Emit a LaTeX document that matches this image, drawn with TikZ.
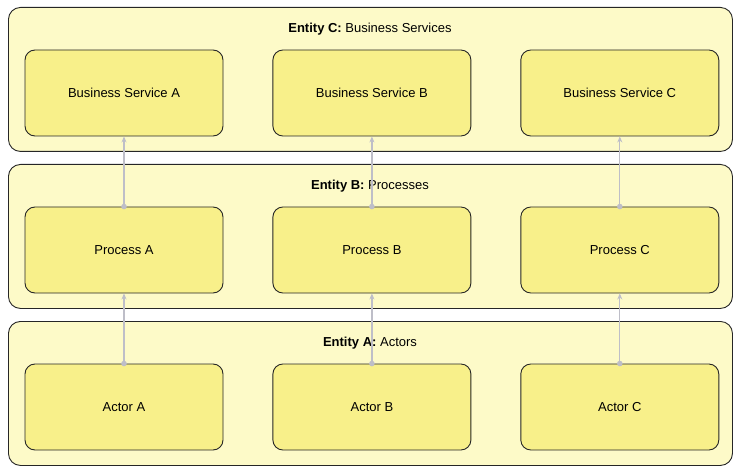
\documentclass[tikz,border=0pt]{standalone}
\usepackage{fontspec}
\setmainfont{Liberation Sans}
\usetikzlibrary{positioning,arrows.meta}
\definecolor{entityfill}{RGB}{253,250,200}
\definecolor{boxfill}{RGB}{248,240,138}
\definecolor{linkgray}{RGB}{190,190,200}
\tikzset{
	%Diagram styles
	entity/.style={
		draw=black!85,
		line width=0.9pt,
		rectangle,
		rounded corners=12pt,
		fill=entityfill,
		minimum width=724pt,
		minimum height=144pt,
		anchor=north west,
	},
	item/.style={
		draw=black!85,
		line width=0.9pt,
		rectangle,
		rounded corners=10pt,
		fill=boxfill,
		minimum width=198pt,
		minimum height=86pt,
		align=center,
		font=\fontsize{13}{15}\selectfont,
	},
	title/.style={
		font=\fontsize{13}{15}\selectfont,
		anchor=center,
	},
	link/.style={
		linkgray,
		line width=1.3pt,
		-{Stealth[length=6pt,width=5pt]},
	},
}
\begin{document}
\begin{tikzpicture}[x=1pt,y=-1pt]
	\useasboundingbox (0,0) rectangle (739,473);
	\node[entity] (entityC) at (8,7) {};
	\node[entity] (entityB) at (8,164) {};
	\node[entity] (entityA) at (8,321) {};

	\node[title] (titleC) at (370,29) {\textbf{Entity C:} Business Services};
	\node[title] (titleB) at (370,186) {\textbf{Entity B:} Processes};
	\node[title] (titleA) at (370,343) {\textbf{Entity A:} Actors};

	\node[item] (serviceA) at (124,93) {Business Service A};
	\node[item, right=49pt of serviceA] (serviceB) {Business Service B};
	\node[item, right=49pt of serviceB] (serviceC) {Business Service C};

	\node[item] (processA) at (124,250) {Process A};
	\node[item, right=49pt of processA] (processB) {Process B};
	\node[item, right=49pt of processB] (processC) {Process C};

	\node[item] (actorA) at (124,407) {Actor A};
	\node[item, right=49pt of actorA] (actorB) {Actor B};
	\node[item, right=49pt of actorB] (actorC) {Actor C};

	\foreach \a/\b in {actorA/processA,actorB/processB,actorC/processC,
		processA/serviceA,processB/serviceB,processC/serviceC}{
		\fill[linkgray] (\a.north) circle (2.8pt);
		\draw[link] (\a.north) -- (\b.south);
	}
\end{tikzpicture}
\end{document}
